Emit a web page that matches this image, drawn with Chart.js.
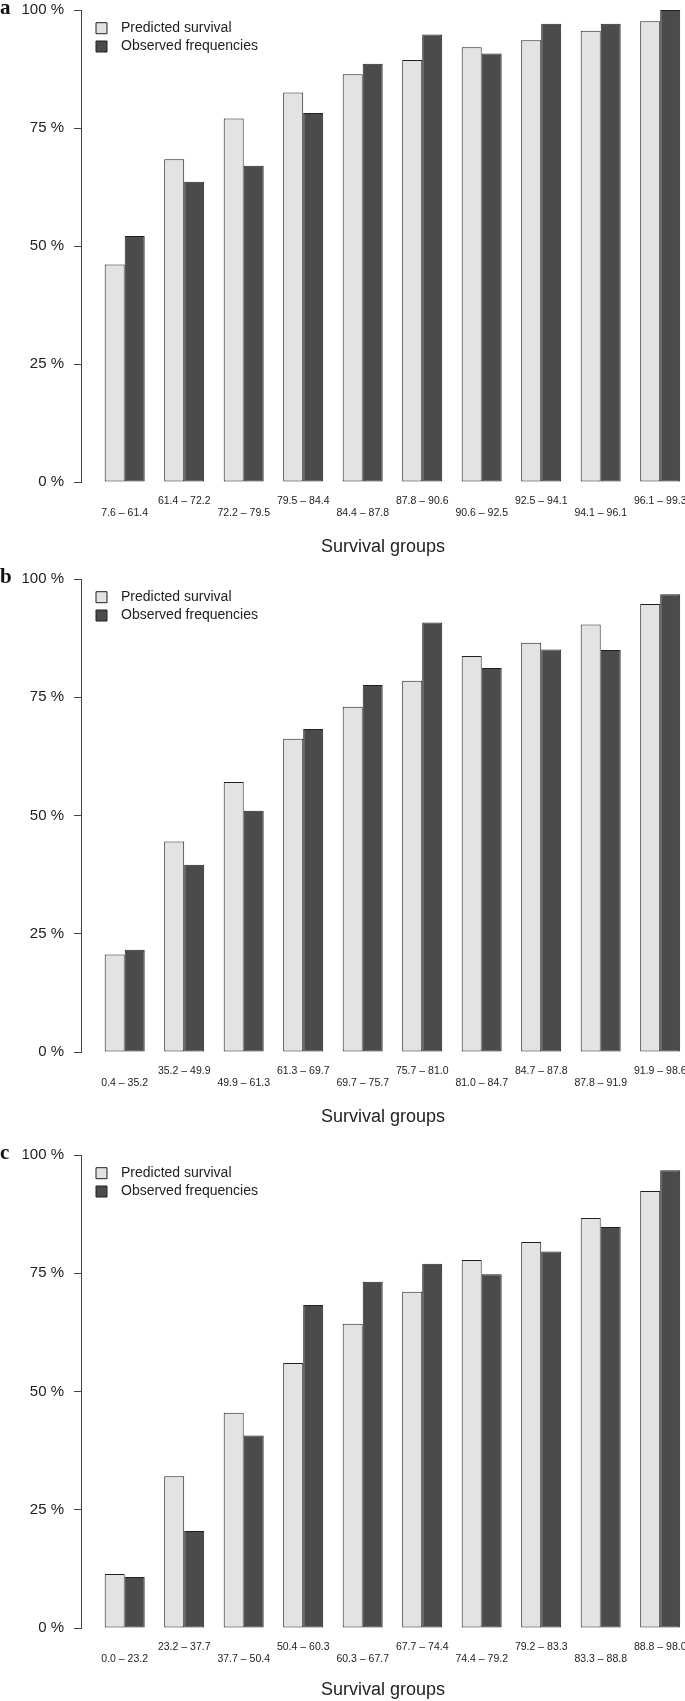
<!DOCTYPE html>
<html>
<head>
<meta charset="utf-8">
<script src="https://cdn.jsdelivr.net/npm/chart.js@4.4.0/dist/chart.umd.min.js"></script>
<style>
  html, body { margin: 0; padding: 0; background: #fff; }
  body { width: 685px; height: 1701px; position: relative; overflow: hidden; }
  .panel { position: absolute; left: 0; width: 685px; }
</style>
</head>
<body>
<div class="panel" id="panelA"><canvas id="chartA"></canvas></div>
<div class="panel" id="panelB"><canvas id="chartB"></canvas></div>
<div class="panel" id="panelC"><canvas id="chartC"></canvas></div>
<script>
// ---- data ----
const seriesNames = ["Predicted survival", "Observed frequencies"];
const yTicks = [0, 25, 50, 75, 100];

const groupsA = ["7.6 – 61.4", "61.4 – 72.2", "72.2 – 79.5", "79.5 – 84.4", "84.4 – 87.8",
                 "87.8 – 90.6", "90.6 – 92.5", "92.5 – 94.1", "94.1 – 96.1", "96.1 – 99.3"];
const predictedA = [46.1, 68.4, 77.0, 82.5, 86.4, 89.4, 92.1, 93.6, 95.6, 97.6];
const observedA  = [52.1, 63.6, 67.0, 78.2, 88.6, 94.8, 90.8, 97.1, 97.1, 100];

const groupsB = ["0.4 – 35.2", "35.2 – 49.9", "49.9 – 61.3", "61.3 – 69.7", "69.7 – 75.7",
                 "75.7 – 81.0", "81.0 – 84.7", "84.7 – 87.8", "87.8 – 91.9", "91.9 – 98.6"];
const predictedB = [20.6, 44.5, 57.1, 66.2, 73.0, 78.5, 83.7, 86.5, 90.4, 94.7];
const observedB  = [21.6, 39.6, 51.0, 68.3, 77.6, 90.8, 81.2, 85.1, 85.0, 96.8];

const groupsC = ["0.0 – 23.2", "23.2 – 37.7", "37.7 – 50.4", "50.4 – 60.3", "60.3 – 67.7",
                 "67.7 – 74.4", "74.4 – 79.2", "79.2 – 83.3", "83.3 – 88.8", "88.8 – 98.0"];
const predictedC = [11.4, 32.1, 45.5, 56.0, 64.3, 71.1, 77.8, 81.6, 86.7, 92.4];
const observedC  = [10.8, 20.5, 40.7, 68.3, 73.2, 77.0, 74.8, 79.6, 84.8, 96.8];

// ---- look ----
const lightFill = "#e3e3e3";
const darkFill = "#4b4b4b";
const edge = "#202020";
const axisCol = "#444";
const textCol = "#222";
const sans = "'Liberation Sans', Arial, Helvetica, sans-serif";

const axisX = 81;        // y axis line position
const groupStep = 59.5;  // px between group centres
const firstCentre = 124.7;
const tickLine = 11.8;   // line height of the staggered group labels
const tickPad = 13;
const legendPad = 4.3;

// panel letter + legend moved inside the plot like the R original
const panelPlugin = {
  id: "panelExtras",
  afterLayout(chart) {
    const lg = chart.legend;
    if (!lg) return;
    const w = lg.width, h = lg.height;
    lg.left = 96 - legendPad;
    lg.top = chart.chartArea.top + 6.9;
    lg.right = lg.left + w;
    lg.bottom = lg.top + h;
  },
  afterDraw(chart, args, opts) {
    const ctx = chart.ctx;
    ctx.save();
    ctx.font = "bold 21px 'Liberation Serif', 'Times New Roman', serif";
    ctx.fillStyle = "#111";
    ctx.textBaseline = "alphabetic";
    ctx.fillText(opts.text, 0, opts.baseline);
    ctx.restore();
  }
};

function makePanel(id, canvasId, letter, groups, predicted, observed, top, height, plotTop, plotBottom, titleCentre) {
  const box = document.getElementById(id);
  box.style.top = top + "px";
  box.style.height = height + "px";

  const padBottom = Math.max(height - (titleCentre - top) - 10.8, 0);

  const xMin = 1 - (firstCentre - axisX) / groupStep;
  const xMax = 10 + (685 - (firstCentre + 9 * groupStep)) / groupStep;

  new Chart(document.getElementById(canvasId), {
    type: "bar",
    data: {
      datasets: [
        {
          label: seriesNames[0],
          data: predicted.map((v, i) => ({ x: i + 1, y: v })),
          backgroundColor: lightFill,
          borderColor: edge,
          borderWidth: 1,
          borderSkipped: false
        },
        {
          label: seriesNames[1],
          data: observed.map((v, i) => ({ x: i + 1, y: v })),
          backgroundColor: darkFill,
          borderColor: edge,
          borderWidth: 1,
          borderSkipped: false
        }
      ]
    },
    options: {
      responsive: true,
      maintainAspectRatio: false,
      animation: false,
      categoryPercentage: 40 / groupStep,
      barPercentage: 1,
      layout: { padding: { top: plotTop - top, left: 0, right: 0, bottom: 0 } },
      scales: {
        x: {
          type: "linear",
          min: xMin,
          max: xMax,
          offset: false,
          afterBuildTicks: s => { s.ticks = groups.map((g, i) => ({ value: i + 1 })); },
          afterFit: s => {
            s.height = top + height - plotBottom;
            s.paddingLeft = 0;
            s.paddingRight = 0;
          },
          grid: { display: false, drawTicks: false },
          border: { display: false },
          ticks: {
            autoSkip: false,
            maxRotation: 0,
            padding: tickPad,
            color: textCol,
            font: { family: sans, size: 10.5, lineHeight: tickLine / 10.5 },
            // odd groups on the lower row, even groups on the upper row
            callback: (v) => {
              const i = Math.round(v) - 1;
              return i % 2 === 0 ? ["", groups[i]] : [groups[i], ""];
            }
          },
          title: {
            display: true,
            text: "Survival groups",
            color: textCol,
            font: { family: sans, size: 18, lineHeight: 1.2 },
            padding: { top: 4, bottom: padBottom }
          }
        },
        y: {
          min: 0,
          max: 100,
          afterFit: s => {
            s.width = axisX;
            s.paddingTop = 0;
            s.paddingBottom = 0;
          },
          afterBuildTicks: s => { s.ticks = yTicks.map(v => ({ value: v })); },
          grid: { drawOnChartArea: false, drawTicks: true, tickLength: 7, color: axisCol },
          border: { display: true, color: axisCol, width: 1 },
          ticks: {
            padding: 10,
            color: textCol,
            font: { family: sans, size: 15 },
            callback: v => v + " %"
          }
        }
      },
      plugins: {
        legend: {
          position: "chartArea",
          align: "start",
          labels: {
            boxWidth: 11,
            boxHeight: 11,
            padding: legendPad,
            color: textCol,
            font: { family: sans, size: 14 },
            generateLabels: chart => Chart.defaults.plugins.legend.labels.generateLabels(chart)
              .map(item => Object.assign(item, { text: "\u2002" + item.text }))
          }
        },
        tooltip: { enabled: false },
        panelExtras: { text: letter, baseline: plotTop - top + 4 }
      }
    },
    plugins: [panelPlugin]
  });
}

makePanel("panelA", "chartA", "a", groupsA, predictedA, observedA, 0, 565, 10, 482, 547);
makePanel("panelB", "chartB", "b", groupsB, predictedB, observedB, 565, 570, 579, 1052, 1116.7);
makePanel("panelC", "chartC", "c", groupsC, predictedC, observedC, 1135, 566, 1155, 1628, 1690);
</script>
</body>
</html>
